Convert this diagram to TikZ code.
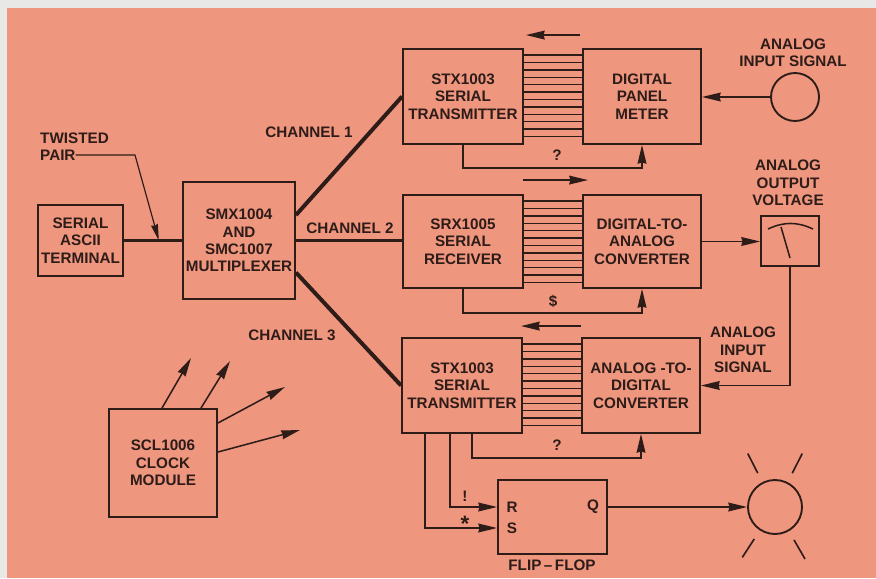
\documentclass[tikz,border=0pt]{standalone}
\usepackage{fontspec}
\setmainfont{Liberation Sans}
\usepackage{xcolor}
\usepackage{tikz}
\usetikzlibrary{arrows.meta,calc}
\definecolor{salmon}{RGB}{239,150,127}
\definecolor{frame}{RGB}{232,232,230}
\definecolor{ink}{RGB}{45,28,24}
\tikzset{
  blk/.style={draw=ink, line width=1.6pt, text=ink, align=center, inner sep=0pt, font=\bfseries\fontsize{13}{14.8}\selectfont},
  unit/.style={blk, minimum width=3.6cm, minimum height=2.85cm},
  chan/.style={ink, line width=3.4pt},
  sig/.style={-{Stealth[length=16pt, width=7.5pt, inset=1pt]}, ink, line width=1.3pt},
  bus/.style={ink, line width=1.3pt},
  ray/.style={ink, line width=1.4pt},
  lbl/.style={text=ink, align=center, inner sep=0pt, font=\bfseries\fontsize{13}{14.8}\selectfont},
}

\begin{document}
\begin{tikzpicture}[x=0.03cm, y=-0.03cm]
% Background
\fill[frame] (0,0) rectangle (876,578);
\fill[salmon] (7,8) rectangle (876,578);
\useasboundingbox (0,0) rectangle (876,578);
% Terminal and multiplexer
\node[blk, minimum width=2.55cm, minimum height=2.13cm] (term) at (80.5,240.5) {SERIAL\\ASCII\\TERMINAL};
\node[blk, minimum width=3.36cm, minimum height=3.51cm] (mux) at (239,240.5) {SMX1004\\AND\\SMC1007\\MULTIPLEXER};
\draw[chan] (term.east) -- (mux.west);
% Twisted pair label
\node[lbl, anchor=west] (twA) at (40,138) {TWISTED};
\node[lbl, anchor=west] (twB) at (40,155) {PAIR};
\coordinate (twK) at (135,155);
\draw[sig, line width=1pt, -{Stealth[length=14pt, width=6pt, inset=1pt]}] (twB.east) -- (twK) -- ($(term.east)!0.6!(mux.west)$);
% Remote units
\node[unit] (stxA) at (463,96.5) {STX1003\\SERIAL\\TRANSMITTER};
\node[unit, minimum width=3.54cm] (dpm) at (642,96.5) {DIGITAL\\PANEL\\METER};
\node[unit, minimum height=2.79cm] (srx) at (463,241.5) {SRX1005\\SERIAL\\RECEIVER};
\node[unit, minimum width=3.54cm, minimum height=2.79cm] (dac) at (642,241.5) {DIGITAL-TO-\\ANALOG\\CONVERTER};
\node[unit] (stxB) at (462,385.5) {STX1003\\SERIAL\\TRANSMITTER};
\node[unit, minimum width=3.54cm] (adc) at (641,385.5) {ANALOG -TO-\\DIGITAL\\CONVERTER};
% Parallel buses
\foreach \a/\b in {stxA/dpm, srx/dac, stxB/adc}
  \foreach \k in {0,...,11}
    \draw[bus] ([yshift=-0.21cm-\k*0.222cm]\a.north east) -- ([yshift=-0.21cm-\k*0.222cm]\b.north west);
% Data direction
\draw[sig] ([shift={(56,-13)}]stxA.north east) -- ([shift={(2,-13)}]stxA.north east);
\draw[sig] ([shift={(-1,-14)}]srx.north east) -- ([shift={(64,-14)}]srx.north east);
\draw[sig] ([shift={(58,-11)}]stxB.north east) -- ([shift={(-2,-11)}]stxB.north east);
% Channels
\draw[chan] ([shift={(0,34)}]mux.north east) -- (stxA.west);
\draw[chan] (mux.east) -- (mux.east -| srx.west);
\draw[chan] ([shift={(0,32)}]mux.east) -- (stxB.west);
\node[lbl] (chA) at (309,132) {CHANNEL 1};
\node[lbl] (chB) at (350,228) {CHANNEL 2};
\node[lbl] (chC) at (292,335) {CHANNEL 3};
% Handshake returns
\draw[sig] (stxA.south) -- ++(0,23) -| (dpm.south);
\node[lbl] (qA) at (557,155) {?};
\draw[sig] (srx.south) -- ++(0,24) -| (dac.south);
\node[lbl] (dol) at (553,301) {\$};
\draw[sig] ([shift={(10,0)}]stxB.south) -- ++(0,24) -| (adc.south);
\node[lbl] (qB) at (557,445) {?};
% Analog input meter
\node[blk, circle, minimum size=1.44cm] (sigA) at (795,97) {};
\node[lbl] (sigAl) at (793,53) {ANALOG\\INPUT SIGNAL};
\draw[sig] (sigA.west) -- (sigA.west -| dpm.east);
% Analog output voltmeter
\node[blk, minimum width=1.74cm, minimum height=1.5cm] (meter) at (790,241) {};
\node[lbl] (meterl) at (788,183) {ANALOG\\OUTPUT\\VOLTAGE};
\draw[ink, line width=1.3pt] ([shift={(-22,-12)}]meter.center) to[bend left=25] ([shift={(23,-12)}]meter.center);
\draw[ink, line width=1.3pt] ([shift={(-9,-14)}]meter.center) -- ([shift={(0,17)}]meter.center);
\draw[sig] (dac.east) -- (dac.east -| meter.west);
\draw[sig] (meter.south) |- (adc.east);
\node[lbl] (sigBl) at (743,350) {ANALOG\\INPUT\\SIGNAL};
% Flip-flop and lamp
\node[blk, minimum width=3.27cm, minimum height=2.22cm] (ff) at (552.5,517) {};
\node[lbl] (ffR) at (512,507) {R};
\node[lbl] (ffS) at (512,528) {S};
\node[lbl] (ffQ) at (593,507) {Q};
\node[lbl] (ffl) at (552,565) {FLIP\,--\,FLOP};
\draw[sig] ([shift={(-12,0)}]stxB.south) |- ([shift={(0,-10)}]ff.west);
\node[lbl] (bang) at (465,496) {!};
\draw[sig] ([shift={(-37,0)}]stxB.south) |- ([shift={(0,11)}]ff.west);
\node[lbl, font=\bfseries\fontsize{19}{19}\selectfont] (star) at (465,524) {*};
\node[blk, circle, minimum size=1.62cm] (lamp) at (775,507) {};
\draw[sig] ([shift={(0,-10)}]ff.east) -- (lamp.west);
\foreach \ang in {63,117,237,300}
  \draw[ray] ([shift={(\ang:1.14cm)}]lamp.center) -- ([shift={(\ang:1.8cm)}]lamp.center);
% Clock module
\node[blk, minimum size=3.24cm] (clk) at (163,463) {SCL1006\\CLOCK\\MODULE};
\coordinate (ckA) at (191,358);
\coordinate (ckB) at (230,361);
\coordinate (ckC) at (285,387);
\coordinate (ckD) at (300,430);
\draw[sig] ([shift={(-1,0)}]clk.north) -- (ckA);
\draw[sig] ([shift={(38,0)}]clk.north) -- (ckB);
\draw[sig] ([shift={(0,-40)}]clk.east) -- (ckC);
\draw[sig] ([shift={(0,-11)}]clk.east) -- (ckD);
\end{tikzpicture}
\end{document}
